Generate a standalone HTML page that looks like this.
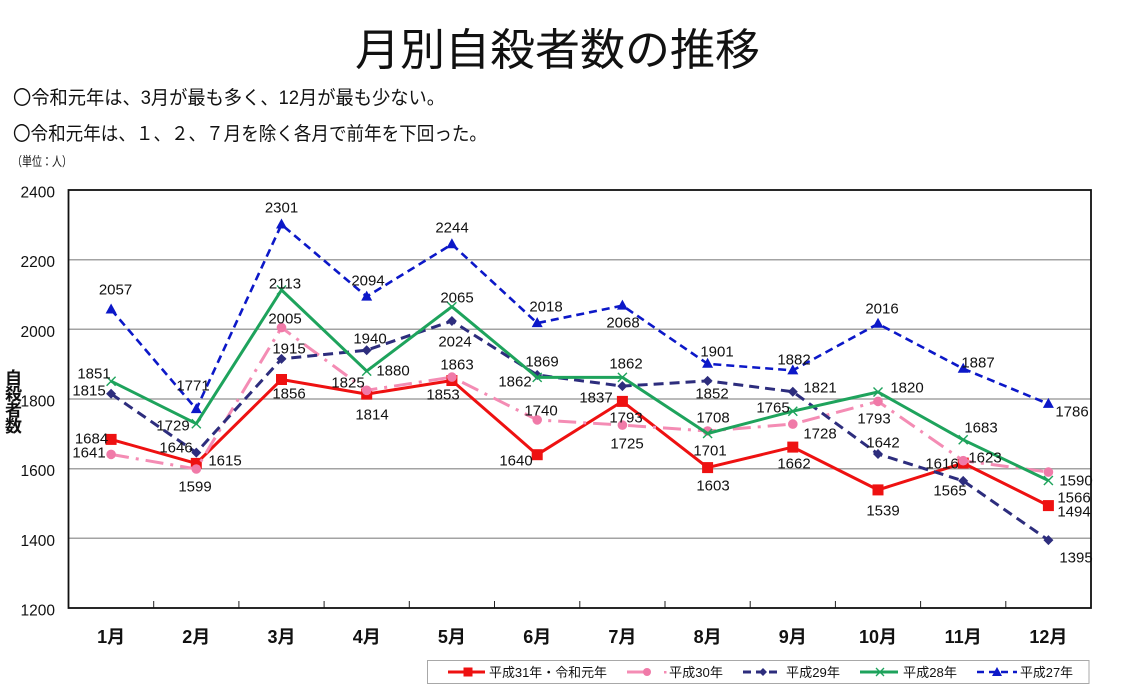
<!DOCTYPE html>
<html><head><meta charset="utf-8"><style>
html,body{margin:0;padding:0;background:#fff;}
svg{display:block;}
text{font-family:"Liberation Sans","Noto Sans CJK JP",sans-serif;fill:#111;}
</style></head><body>
<svg width="1122" height="693" viewBox="0 0 1122 693" xmlns="http://www.w3.org/2000/svg">
<rect width="1122" height="693" fill="#fff"/>
<text x="355" y="65" font-size="44" textLength="405" lengthAdjust="spacingAndGlyphs">月別自殺者数の推移</text>
<text x="13" y="104" font-size="19" textLength="432" lengthAdjust="spacingAndGlyphs">〇令和元年は、3月が最も多く、12月が最も少ない。</text>
<text x="13" y="140" font-size="19" textLength="474" lengthAdjust="spacingAndGlyphs">〇令和元年は、１、２、７月を除く各月で前年を下回った。</text>
<text x="12" y="166" font-size="13" textLength="60" lengthAdjust="spacingAndGlyphs">（単位：人）</text>

<g stroke="#a3a3a3" stroke-width="1.5">
<line x1="68.5" y1="259.7" x2="1091" y2="259.7"/>
<line x1="68.5" y1="329.3" x2="1091" y2="329.3"/>
<line x1="68.5" y1="399" x2="1091" y2="399"/>
<line x1="68.5" y1="468.7" x2="1091" y2="468.7"/>
<line x1="68.5" y1="538.3" x2="1091" y2="538.3"/>
</g>
<g stroke="#222" stroke-width="1">
<line x1="153.7" y1="601" x2="153.7" y2="608"/><line x1="238.9" y1="601" x2="238.9" y2="608"/>
<line x1="324.1" y1="601" x2="324.1" y2="608"/><line x1="409.3" y1="601" x2="409.3" y2="608"/>
<line x1="494.5" y1="601" x2="494.5" y2="608"/><line x1="579.8" y1="601" x2="579.8" y2="608"/>
<line x1="665" y1="601" x2="665" y2="608"/><line x1="750.2" y1="601" x2="750.2" y2="608"/>
<line x1="835.4" y1="601" x2="835.4" y2="608"/><line x1="920.6" y1="601" x2="920.6" y2="608"/>
<line x1="1005.8" y1="601" x2="1005.8" y2="608"/>
</g>
<rect x="68.5" y="190" width="1022.5" height="418" fill="none" stroke="#111" stroke-width="1.8"/>

<g font-size="15.5" text-anchor="end">
<text x="55" y="197.5">2400</text>
<text x="55" y="267">2200</text>
<text x="55" y="337">2000</text>
<text x="55" y="406.5">1800</text>
<text x="55" y="476">1600</text>
<text x="55" y="546">1400</text>
<text x="55" y="615.5">1200</text>
</g>
<g font-size="17" font-weight="bold" text-anchor="middle">
<text x="13.5" y="384">自</text>
<text x="13.5" y="400">殺</text>
<text x="13.5" y="416">者</text>
<text x="13.5" y="432">数</text>
</g>
<g font-size="18" font-weight="bold" text-anchor="middle">
<text x="111.1" y="643">1月</text><text x="196.3" y="643">2月</text><text x="281.5" y="643">3月</text>
<text x="366.7" y="643">4月</text><text x="451.9" y="643">5月</text><text x="537.2" y="643">6月</text>
<text x="622.4" y="643">7月</text><text x="707.6" y="643">8月</text><text x="792.8" y="643">9月</text>
<text x="878" y="643">10月</text><text x="963.2" y="643">11月</text><text x="1048.4" y="643">12月</text>
</g>

<!-- H31/R1 red -->
<polyline fill="none" stroke="#ee1111" stroke-width="3" stroke-linejoin="round" points="111.1,439.4 196.3,463.4 281.5,379.5 366.7,394.1 451.9,380.5 537.2,454.7 622.4,401.4 707.6,467.6 792.8,447.1 878,489.9 963.2,463.1 1048.4,505.6"/>
<g fill="#ee1111">
<rect x="105.6" y="433.9" width="11" height="11"/><rect x="190.8" y="457.9" width="11" height="11"/>
<rect x="276" y="374" width="11" height="11"/><rect x="361.2" y="388.6" width="11" height="11"/>
<rect x="446.4" y="375" width="11" height="11"/><rect x="531.7" y="449.2" width="11" height="11"/>
<rect x="616.9" y="395.9" width="11" height="11"/><rect x="702.1" y="462.1" width="11" height="11"/>
<rect x="787.3" y="441.6" width="11" height="11"/><rect x="872.5" y="484.4" width="11" height="11"/>
<rect x="957.7" y="457.6" width="11" height="11"/><rect x="1042.9" y="500.1" width="11" height="11"/>
</g>

<!-- H30 pink -->
<polyline fill="none" stroke="#f48cb4" stroke-width="3" stroke-dasharray="18 7 3 7" points="111.1,454.4 196.3,469 281.5,327.6 366.7,390.3 451.9,377.1 537.2,419.9 622.4,425.1 707.6,431 792.8,424.1 878,401.4 963.2,460.7 1048.4,472.1"/>
<g fill="#f07aa8">
<circle cx="111.1" cy="454.4" r="4.8"/><circle cx="196.3" cy="469" r="4.8"/><circle cx="281.5" cy="327.6" r="4.8"/>
<circle cx="366.7" cy="390.3" r="4.8"/><circle cx="451.9" cy="377.1" r="4.8"/><circle cx="537.2" cy="419.9" r="4.8"/>
<circle cx="622.4" cy="425.1" r="4.8"/><circle cx="707.6" cy="431" r="4.8"/><circle cx="792.8" cy="424.1" r="4.8"/>
<circle cx="878" cy="401.4" r="4.8"/><circle cx="963.2" cy="460.7" r="4.8"/><circle cx="1048.4" cy="472.1" r="4.8"/>
</g>

<!-- H29 navy -->
<polyline fill="none" stroke="#2d2d7d" stroke-width="3" stroke-dasharray="10 6" points="111.1,393.8 196.3,452.6 281.5,358.9 366.7,350.2 451.9,321 537.2,375 622.4,386.1 707.6,380.9 792.8,391.7 878,454 963.2,480.9 1048.4,540.1"/>
<g fill="#2d2d7d">
<polygon points="111.1,388.8 116.1,393.8 111.1,398.8 106.1,393.8"/>
<polygon points="196.3,447.6 201.3,452.6 196.3,457.6 191.3,452.6"/>
<polygon points="281.5,353.9 286.5,358.9 281.5,363.9 276.5,358.9"/>
<polygon points="366.7,345.2 371.7,350.2 366.7,355.2 361.7,350.2"/>
<polygon points="451.9,316 456.9,321 451.9,326 446.9,321"/>
<polygon points="537.2,370 542.2,375 537.2,380 532.2,375"/>
<polygon points="622.4,381.1 627.4,386.1 622.4,391.1 617.4,386.1"/>
<polygon points="707.6,375.9 712.6,380.9 707.6,385.9 702.6,380.9"/>
<polygon points="792.8,386.7 797.8,391.7 792.8,396.7 787.8,391.7"/>
<polygon points="878,449 883,454 878,459 873,454"/>
<polygon points="963.2,475.9 968.2,480.9 963.2,485.9 958.2,480.9"/>
<polygon points="1048.4,535.1 1053.4,540.1 1048.4,545.1 1043.4,540.1"/>
</g>

<!-- H28 green -->
<polyline fill="none" stroke="#1ea35c" stroke-width="3" stroke-linejoin="round" points="111.1,381.2 196.3,423.7 281.5,290 366.7,371.1 451.9,306.7 537.2,377.4 622.4,377.4 707.6,433.5 792.8,411.2 878,392 963.2,439.8 1048.4,480.5"/>
<g stroke="#1ea35c" stroke-width="1.4">
<path d="M106.6 376.7L115.6 385.7M115.6 376.7L106.6 385.7"/>
<path d="M191.8 419.2L200.8 428.2M200.8 419.2L191.8 428.2"/>
<path d="M277 285.5L286 294.5M286 285.5L277 294.5"/>
<path d="M362.2 366.6L371.2 375.6M371.2 366.6L362.2 375.6"/>
<path d="M447.4 302.2L456.4 311.2M456.4 302.2L447.4 311.2"/>
<path d="M532.7 372.9L541.7 381.9M541.7 372.9L532.7 381.9"/>
<path d="M617.9 372.9L626.9 381.9M626.9 372.9L617.9 381.9"/>
<path d="M703.1 429L712.1 438M712.1 429L703.1 438"/>
<path d="M788.3 406.7L797.3 415.7M797.3 406.7L788.3 415.7"/>
<path d="M873.5 387.5L882.5 396.5M882.5 387.5L873.5 396.5"/>
<path d="M958.7 435.3L967.7 444.3M967.7 435.3L958.7 444.3"/>
<path d="M1043.9 476L1052.9 485M1052.9 476L1043.9 485"/>
</g>

<!-- H27 blue -->
<polyline fill="none" stroke="#0c18c8" stroke-width="2.6" stroke-dasharray="8 5" points="111.1,309.5 196.3,409.1 281.5,224.5 366.7,296.6 451.9,244.3 537.2,323.1 622.4,305.6 707.6,363.8 792.8,370.4 878,323.8 963.2,368.7 1048.4,403.9"/>
<g fill="#0c18c8">
<polygon points="111.1,303.5 116.6,313.5 105.6,313.5"/>
<polygon points="196.3,403.1 201.8,413.1 190.8,413.1"/>
<polygon points="281.5,218.5 287,228.5 276,228.5"/>
<polygon points="366.7,290.6 372.2,300.6 361.2,300.6"/>
<polygon points="451.9,238.3 457.4,248.3 446.4,248.3"/>
<polygon points="537.2,317.1 542.7,327.1 531.7,327.1"/>
<polygon points="622.4,299.6 627.9,309.6 616.9,309.6"/>
<polygon points="707.6,357.8 713.1,367.8 702.1,367.8"/>
<polygon points="792.8,364.4 798.3,374.4 787.3,374.4"/>
<polygon points="878,317.8 883.5,327.8 872.5,327.8"/>
<polygon points="963.2,362.7 968.7,372.7 957.7,372.7"/>
<polygon points="1048.4,397.9 1053.9,407.9 1042.9,407.9"/>
</g>

<!-- data labels -->
<g font-size="15" text-anchor="middle">
<text x="115.5" y="294.5">2057</text><text x="193" y="390.5">1771</text><text x="281.5" y="212.5">2301</text>
<text x="368" y="285.5">2094</text><text x="452" y="232.5">2244</text><text x="546" y="311.5">2018</text>
<text x="623" y="327.5">2068</text><text x="717" y="356.5">1901</text><text x="794" y="364.5">1882</text>
<text x="882" y="313.5">2016</text><text x="978" y="367.5">1887</text><text x="1072" y="416.5">1786</text>

<text x="89" y="395.5">1815</text><text x="176" y="452.5">1646</text><text x="289" y="353.5">1915</text>
<text x="370" y="343.5">1940</text><text x="455" y="346.5">2024</text><text x="542" y="366.5">1869</text>
<text x="596" y="402.5">1837</text><text x="712" y="398.5">1852</text><text x="820" y="392.5">1821</text>
<text x="883" y="447.5">1642</text><text x="950" y="495.5">1565</text><text x="1076" y="562.5">1395</text>

<text x="94" y="378.5">1851</text><text x="173" y="430.5">1729</text><text x="285" y="288.5">2113</text>
<text x="393" y="375.5">1880</text><text x="457" y="302.5">2065</text><text x="515" y="386.5">1862</text>
<text x="626" y="368.5">1862</text><text x="710" y="455.5">1701</text><text x="773" y="412.5">1765</text>
<text x="907" y="392.5">1820</text><text x="981" y="432.5">1683</text><text x="1074" y="502.5">1566</text>

<text x="89" y="457.5">1641</text><text x="195" y="491.5">1599</text><text x="285" y="323.5">2005</text>
<text x="348" y="387.5">1825</text><text x="457" y="369.5">1863</text><text x="541" y="415.5">1740</text>
<text x="627" y="448.5">1725</text><text x="713" y="422.5">1708</text><text x="820" y="438.5">1728</text>
<text x="874" y="423.5">1793</text><text x="985" y="462.5">1623</text><text x="1076" y="485.5">1590</text>

<text x="91.5" y="443.5">1684</text><text x="225" y="465.5">1615</text><text x="289" y="398.5">1856</text>
<text x="372" y="419.5">1814</text><text x="443" y="399.5">1853</text><text x="516" y="465.5">1640</text>
<text x="626" y="422.5">1793</text><text x="713" y="490.5">1603</text><text x="794" y="468.5">1662</text>
<text x="883" y="515.5">1539</text><text x="942" y="468.5">1616</text><text x="1074" y="516.5">1494</text>
</g>

<!-- legend -->
<rect x="427.5" y="660.5" width="661.5" height="23" fill="#fff" stroke="#a8a8a8" stroke-width="1"/>
<line x1="448" y1="672" x2="485" y2="672" stroke="#ee1111" stroke-width="3"/>
<rect x="463.5" y="667.5" width="9" height="9" fill="#ee1111"/>
<line x1="627" y1="672" x2="650" y2="672" stroke="#f48cb4" stroke-width="3"/>
<circle cx="647" cy="672" r="4" fill="#f07aa8"/>
<rect x="664" y="671" width="2.5" height="2.5" fill="#f48cb4"/>
<line x1="743" y1="672" x2="780" y2="672" stroke="#2d2d7d" stroke-width="3" stroke-dasharray="8 5"/>
<polygon points="763,668 767,672 763,676 759,672" fill="#2d2d7d"/>
<line x1="860" y1="672" x2="898" y2="672" stroke="#1ea35c" stroke-width="3"/>
<path d="M876 668L884 676M884 668L876 676" stroke="#1ea35c" stroke-width="1.3"/>
<line x1="977" y1="672" x2="1017" y2="672" stroke="#0c18c8" stroke-width="2.6" stroke-dasharray="7 5"/>
<polygon points="997,667 1002,676 992,676" fill="#0c18c8"/>
<g font-size="13">
<text x="489" y="677" textLength="118" lengthAdjust="spacingAndGlyphs">平成31年・令和元年</text>
<text x="669" y="677" textLength="54" lengthAdjust="spacingAndGlyphs">平成30年</text>
<text x="786" y="677" textLength="54" lengthAdjust="spacingAndGlyphs">平成29年</text>
<text x="903" y="677" textLength="54" lengthAdjust="spacingAndGlyphs">平成28年</text>
<text x="1020" y="677" textLength="53" lengthAdjust="spacingAndGlyphs">平成27年</text>
</g>
</svg>
</body></html>
